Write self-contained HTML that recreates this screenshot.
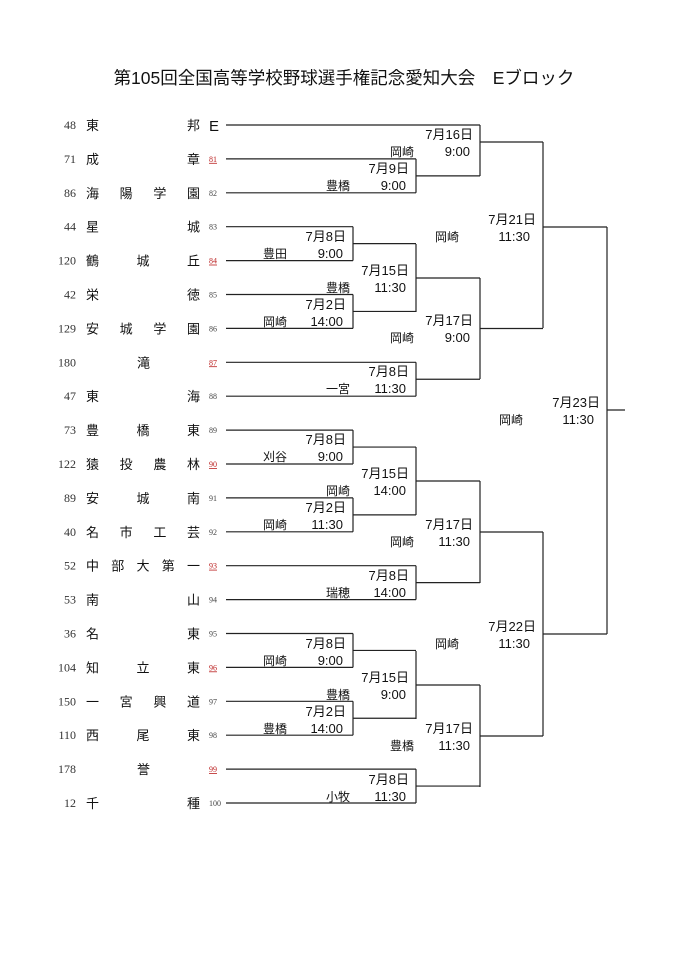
<!DOCTYPE html>
<html><head><meta charset="utf-8">
<style>
html,body{margin:0;padding:0;background:#fff;}
svg{display:block;}
text{font-family:"Liberation Sans","Noto Sans CJK JP",sans-serif;fill:#111;}
.n{font-family:"Liberation Serif","Noto Serif CJK SC",serif;font-size:12px;fill:#333;}
.s{font-family:"Liberation Serif",serif;font-size:8px;fill:#444;}
.r{fill:#b22;text-decoration:underline;}
.nm{font-family:"Noto Sans CJK JP",sans-serif;font-size:13px;}
.lb{font-size:13px;}
.vn{font-family:"Noto Sans CJK JP",sans-serif;font-size:12px;}
</style></head>
<body>
<svg width="680" height="961" viewBox="0 0 680 961" xmlns="http://www.w3.org/2000/svg">
<text x="344" y="84" text-anchor="middle" style="font-family:'Liberation Sans','Noto Sans CJK JP',sans-serif;font-size:17.5px">第105回全国高等学校野球選手権記念愛知大会　Eブロック</text>
<g id="rows"></g>
<g id="lines" stroke="#222" stroke-width="1.2" fill="none"></g>
<g id="labels"></g>
</svg>
<script>
const rows=[["48","東邦","E"],["71","成章","81"],["86","海陽学園","82"],["44","星城","83"],["120","鶴城丘","84"],["42","栄徳","85"],["129","安城学園","86"],["180","滝","87"],["47","東海","88"],["73","豊橋東","89"],["122","猿投農林","90"],["89","安城南","91"],["40","名市工芸","92"],["52","中部大第一","93"],["53","南山","94"],["36","名東","95"],["104","知立東","96"],["150","一宮興道","97"],["110","西尾東","98"],["178","誉","99"],["12","千種","100"]];
const red=new Set(["81","84","87","90","93","96","99"]);
const Y=i=>125+i*33.9;
let h="";
rows.forEach((r,i)=>{
 const y=Y(i);
 h+=`<text class="n" x="76" y="${y+4}" text-anchor="end">${r[0]}</text>`;
 const c=[...r[1]],n=c.length;
 c.forEach((ch,k)=>{const x=n==1?137:86+k*101/(n-1);h+=`<text class="nm" x="${x}" y="${y+5}">${ch}</text>`;});
 if(r[2]=="E")h+=`<text x="209" y="${y+6}" style="font-size:15px">E</text>`;
 else h+=`<text class="s${red.has(r[2])?' r':''}" x="209" y="${y+3}">${r[2]}</text>`;
});
document.getElementById("rows").innerHTML=h;
let l="";
const H=(x1,x2,y)=>l+=`<line x1="${x1}" y1="${y}" x2="${x2}" y2="${y}"/>`;
const V=(x,y1,y2)=>l+=`<line x1="${x}" y1="${y1}" x2="${x}" y2="${y2}"/>`;
const ends=[480,416,416,353,353,353,353,416,416,353,353,353,353,416,416,353,353,353,353,416,416];
ends.forEach((e,i)=>H(226,e,Y(i)));
const J=[[416,Y(1),Y(2),480],[480,Y(0),176,543,142],[353,Y(3),Y(4),416],[353,Y(5),Y(6),416],[416,244,312,480],[416,Y(7),Y(8),480],[480,278,379,543],[543,142,328,607,227],
[353,Y(9),Y(10),416],[353,Y(11),Y(12),416],[416,447,515,480],[416,Y(13),Y(14),480],[480,481,583,543],
[353,Y(15),Y(16),416],[353,Y(17),Y(18),416],[416,651,719,480],[416,Y(19),Y(20),480],[480,685,787,543],[543,532,736,607]];
J.forEach(([x,a,b,o,mm])=>{V(x,a,b);let m=mm!==undefined?mm:(a+b)/2;H(x,o,m);});
V(607,227,634);H(607,625,410);
document.getElementById("lines").innerHTML=l;
const L=[[480,142,"7月16日","岡崎","9:00"],[416,176,"7月9日","豊橋","9:00"],[353,244,"7月8日","豊田","9:00"],[416,278,"7月15日","豊橋","11:30"],[353,312,"7月2日","岡崎","14:00"],[480,328,"7月17日","岡崎","9:00"],[416,379,"7月8日","一宮","11:30"],[543,227,"7月21日","岡崎","11:30"],[607,410,"7月23日","岡崎","11:30"],[353,447,"7月8日","刈谷","9:00"],[416,481,"7月15日","岡崎","14:00"],[353,515,"7月2日","岡崎","11:30"],[480,532,"7月17日","岡崎","11:30"],[416,583,"7月8日","瑞穂","14:00"],[543,634,"7月22日","岡崎","11:30"],[353,651,"7月8日","岡崎","9:00"],[416,685,"7月15日","豊橋","9:00"],[353,719,"7月2日","豊橋","14:00"],[480,736,"7月17日","豊橋","11:30"],[416,787,"7月8日","小牧","11:30"]];
let t="";
L.forEach(([x,m,d,v,tm])=>{
 const big=x>=543;
 t+=`<text class="lb" x="${x-7}" y="${m-3}" text-anchor="end">${d}</text>`;
 t+=`<text class="lb" x="${x-(big?13:10)}" y="${m+14}" text-anchor="end">${tm}</text>`;
 t+=`<text class="vn" x="${x-(big?84:66)}" y="${m+14}" text-anchor="end">${v}</text>`;
});
document.getElementById("labels").innerHTML=t;
</script>
</body></html>
